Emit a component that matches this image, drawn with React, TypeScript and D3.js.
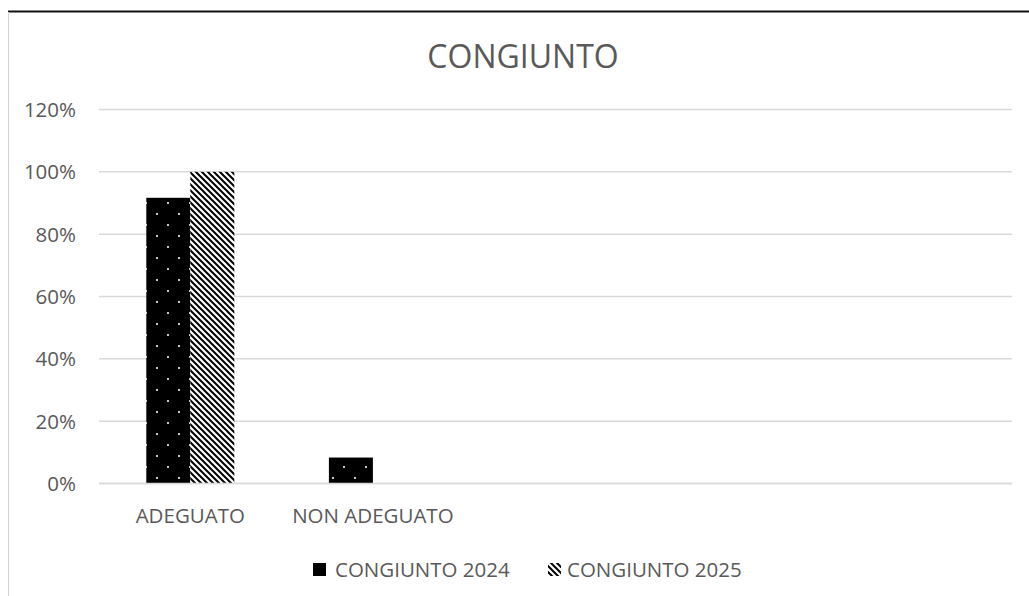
import * as d3 from 'd3';

const title = 'CONGIUNTO';
const categories = ['ADEGUATO', 'NON ADEGUATO', '', '', ''];
const seriesNames = ['CONGIUNTO 2024', 'CONGIUNTO 2025'];
const values2024 = [0.9167, 0.0833, null, null, null];
const values2025 = [1.0, null, null, null, null];
const yTicks = [0, 0.2, 0.4, 0.6, 0.8, 1.0, 1.2];

const W = 1029;
const H = 596;
const plot = { left: 99, right: 1012, top: 109.5, bottom: 483.5 };
const gapWidth = 2.15;
const textColor = '#595959';
const font = '"Open Sans", "Noto Sans", sans-serif';

export default function App() {
  const x = d3.scaleBand<number>()
    .domain(d3.range(categories.length))
    .range([plot.left, plot.right]);
  const bw = x.bandwidth();
  const barW = bw / (seriesNames.length + gapWidth);
  const x1 = d3.scaleBand<number>()
    .domain(d3.range(seriesNames.length))
    .range([(bw - barW * seriesNames.length) / 2, (bw + barW * seriesNames.length) / 2]);
  const y = d3.scaleLinear().domain([0, 1.2]).range([plot.bottom, plot.top]);
  const fmt = d3.format('.0%');
  const series = [values2024, values2025];
  const fills = ['url(#dots)', 'url(#hatch)'];

  return (
    <svg width={W} height={H} style={{ position: 'absolute', left: 0, top: 0, display: 'block' }}>
      <defs>
        <pattern id="dots" patternUnits="userSpaceOnUse" width={22} height={22}>
          <rect width={22} height={22} fill="#000" />
          <rect x={13} y={4} width={2} height={2} fill="#c8c8c8" />
          <rect x={2} y={15} width={2} height={2} fill="#c8c8c8" />
        </pattern>
        <pattern id="hatch" patternUnits="userSpaceOnUse" width={6} height={6}>
          <rect width={6} height={6} fill="#fff" />
          <path d="M0,0 L6,6 M-1.5,4.5 L1.5,7.5 M4.5,-1.5 L7.5,1.5" stroke="#000" strokeWidth={2} />
        </pattern>
      </defs>
      <rect x={0} y={0} width={W} height={H} fill="#fff" />
      {/* chart frame */}
      <line x1={8} x2={W} y1={11.5} y2={11.5} stroke="#111" strokeWidth={2} />
      <line x1={8.5} x2={8.5} y1={12} y2={H} stroke="#d0d0d0" strokeWidth={1} />

      <text x={523} y={68} textAnchor="middle" fontFamily={font} fontSize={32} fill={textColor}>
        {title}
      </text>

      {yTicks.map((t) => (
        <g key={t}>
          <line x1={plot.left} x2={plot.right} y1={y(t)} y2={y(t)} stroke="#d9d9d9" strokeWidth={1.5} />
          <text x={76} y={y(t) + 7.5} textAnchor="end" fontFamily={font} fontSize={20.5} fill={textColor}>
            {fmt(t)}
          </text>
        </g>
      ))}

      {series.map((vals, si) =>
        vals.map((v, ci) =>
          v == null ? null : (
            <rect
              key={`${si}-${ci}`}
              x={(x(ci) ?? 0) + (x1(si) ?? 0)}
              y={y(v)}
              width={x1.bandwidth()}
              height={y(0) - y(v)}
              fill={fills[si]}
            />
          ),
        ),
      )}
      <line x1={plot.left} x2={plot.right} y1={y(0)} y2={y(0)} stroke="#d9d9d9" strokeWidth={1.5} />

      {categories.map((c, i) => (
        <text key={i} x={(x(i) ?? 0) + bw / 2} y={523} textAnchor="middle" fontFamily={font} fontSize={20.5} fill={textColor}>
          {c}
        </text>
      ))}

      {seriesNames.map((name, i) => {
        const lx = [313, 548][i];
        return (
          <g key={name}>
            <rect x={lx} y={563} width={13} height={13} fill={fills[i]} />
            <text x={lx + 22 - (i === 1 ? 3 : 0)} y={576.5} fontFamily={font} fontSize={20.5} fill={textColor}>
              {name}
            </text>
          </g>
        );
      })}
    </svg>
  );
}
